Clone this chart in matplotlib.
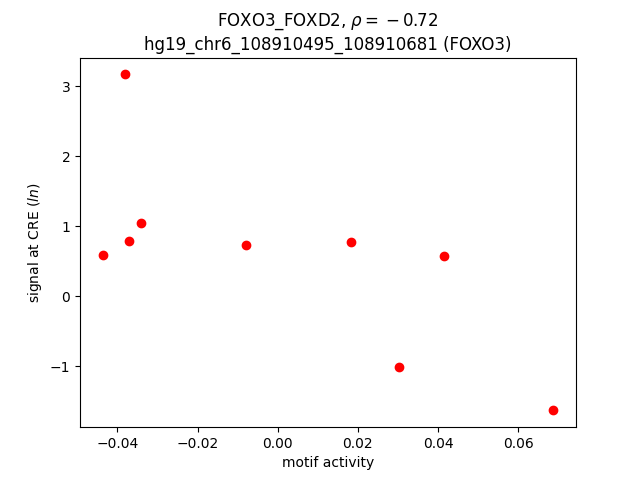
import matplotlib
matplotlib.use("Agg")
import matplotlib.pyplot as plt

motif_activity = [-0.0437, -0.0382, -0.0370, -0.0340, -0.0080, 0.0183, 0.0303, 0.0415, 0.0688]
signal = [0.586, 3.17, 0.786, 1.043, 0.729, 0.771, -1.014, 0.571, -1.629]

fig, ax = plt.subplots(figsize=(6.4, 4.8), dpi=100)
ax.scatter(motif_activity, signal, color="red")
ax.set_title("FOXO3_FOXD2, $\\rho = {}- 0.72$\nhg19_chr6_108910495_108910681 (FOXO3)")
ax.set_xlabel("motif activity")
ax.set_ylabel("signal at CRE ($ln$)")
fig.savefig("out.png")
